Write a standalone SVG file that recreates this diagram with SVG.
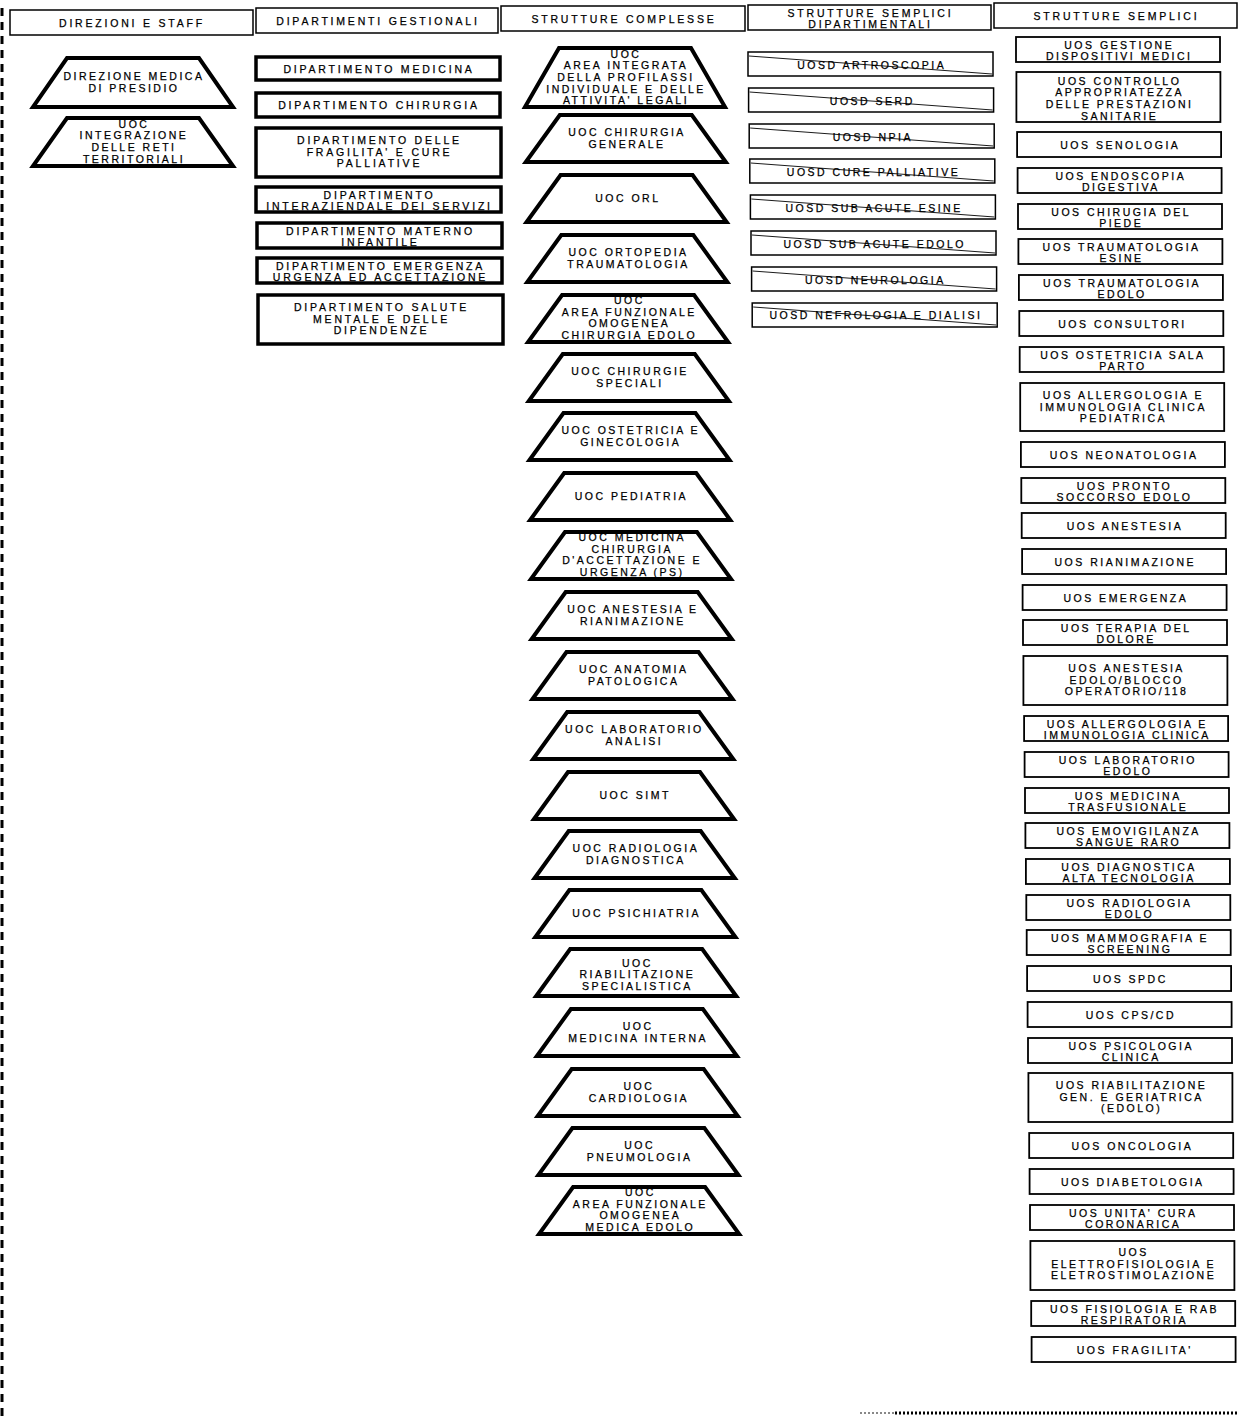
<svg xmlns="http://www.w3.org/2000/svg" width="1239" height="1416" viewBox="0 0 1239 1416">
<style>
.bg{fill:#fff}
.hd{fill:#fff;stroke:#000;stroke-width:1.5}
.tr{fill:#fff;stroke:#000;stroke-width:4;stroke-linejoin:miter}
.dp{fill:#fff;stroke:#000;stroke-width:3.5}
.sd{fill:#fff;stroke:#000;stroke-width:1.5}
.us{fill:#fff;stroke:#000;stroke-width:1.8}
.dg{stroke:#000;stroke-width:0.9;fill:none}
text{font-family:"Liberation Sans",Arial,sans-serif;font-size:10.5px;letter-spacing:2.5px;text-anchor:middle;fill:#000;stroke:#000;stroke-width:0.25}
.ht{letter-spacing:2.8px}
.dt{letter-spacing:2.8px}
</style>
<rect class="bg" x="0" y="0" width="1239" height="1416"/>
<g id="decor">
<line x1="2" y1="8" x2="2" y2="1416" stroke="#000" stroke-width="3" stroke-dasharray="8 6"/>
<line x1="860" y1="1413" x2="895" y2="1413" stroke="#888" stroke-width="2" stroke-dasharray="2 2"/>
<line x1="895" y1="1413" x2="1239" y2="1413" stroke="#000" stroke-width="3" stroke-dasharray="2 2"/>
</g>
<g id="headers">
<g id="h1"><rect class="hd" x="10" y="10" width="243" height="25"/><text class="ht" x="132" y="26.5">DIREZIONI E STAFF</text></g>
<g id="h2"><rect class="hd" x="256" y="8" width="242" height="25"/><text class="ht" x="378" y="24.5">DIPARTIMENTI GESTIONALI</text></g>
<g id="h3"><rect class="hd" x="501" y="6" width="244" height="25"/><text class="ht" x="624" y="22.5">STRUTTURE COMPLESSE</text></g>
<g id="h4"><rect class="hd" x="748" y="5" width="243" height="25"/><text class="ht" x="870.5" y="16.5">STRUTTURE SEMPLICI</text><text class="ht" x="870.5" y="28.2">DIPARTIMENTALI</text></g>
<g id="h5"><rect class="hd" x="994" y="3" width="243" height="25"/><text class="ht" x="1116.5" y="19.5">STRUTTURE SEMPLICI</text></g>
</g>
<g id="staff">
<g id="s1"><polygon class="tr" points="67,58 199,58 233,107 33,107"/><text x="134" y="80">DIREZIONE MEDICA</text><text x="134" y="91.7">DI PRESIDIO</text></g>
<g id="s2"><polygon class="tr" points="67,118 199,118 233,166 33,166"/><text x="134" y="127.5">UOC</text><text x="134" y="139.2">INTEGRAZIONE</text><text x="134" y="150.9">DELLE RETI</text><text x="134" y="162.6">TERRITORIALI</text></g>
</g>
<g id="dipartimenti">
<g id="d1"><rect class="dp" x="256" y="57" width="244" height="23"/><text class="dt" x="379" y="72.5">DIPARTIMENTO MEDICINA</text></g>
<g id="d2"><rect class="dp" x="256" y="93" width="244" height="24"/><text class="dt" x="379" y="108.5">DIPARTIMENTO CHIRURGIA</text></g>
<g id="d3"><rect class="dp" x="256" y="128" width="245" height="49"/><text class="dt" x="379.5" y="144">DIPARTIMENTO DELLE</text><text class="dt" x="379.5" y="155.7">FRAGILITA' E CURE</text><text class="dt" x="379.5" y="167.4">PALLIATIVE</text></g>
<g id="d4"><rect class="dp" x="256" y="187" width="245" height="25"/><text class="dt" x="379.5" y="198.5">DIPARTIMENTO</text><text class="dt" x="379.5" y="210.2">INTERAZIENDALE DEI SERVIZI</text></g>
<g id="d5"><rect class="dp" x="257" y="223" width="245" height="25"/><text class="dt" x="380.5" y="234.5">DIPARTIMENTO MATERNO</text><text class="dt" x="380.5" y="246.2">INFANTILE</text></g>
<g id="d6"><rect class="dp" x="257" y="258" width="245" height="25"/><text class="dt" x="380.5" y="269.5">DIPARTIMENTO EMERGENZA</text><text class="dt" x="380.5" y="281.2">URGENZA ED ACCETTAZIONE</text></g>
<g id="d7"><rect class="dp" x="258" y="295" width="245" height="49"/><text class="dt" x="381.5" y="311">DIPARTIMENTO SALUTE</text><text class="dt" x="381.5" y="322.7">MENTALE E DELLE</text><text class="dt" x="381.5" y="334.4">DIPENDENZE</text></g>
</g>
<g id="complesse">
<g id="c1"><polygon class="tr" points="559,48 691,48 725,107 525,107"/><text x="626" y="57.5">UOC</text><text x="626" y="69.2">AREA INTEGRATA</text><text x="626" y="80.9">DELLA PROFILASSI</text><text x="626" y="92.6">INDIVIDUALE E DELLE</text><text x="626" y="104.3">ATTIVITA' LEGALI</text></g>
<g id="c2"><polygon class="tr" points="559.8,115 691.8,115 725.8,162 525.8,162"/><text x="627" y="136">UOC CHIRURGIA</text><text x="627" y="147.7">GENERALE</text></g>
<g id="c3"><polygon class="tr" points="560.6,175 692.6,175 726.6,222 526.6,222"/><text x="627.8" y="202">UOC ORL</text></g>
<g id="c4"><polygon class="tr" points="561.3,235 693.3,235 727.3,282 527.3,282"/><text x="628.5" y="256">UOC ORTOPEDIA</text><text x="628.5" y="267.7">TRAUMATOLOGIA</text></g>
<g id="c5"><polygon class="tr" points="562.1,295 694.1,295 728.1,342 528.1,342"/><text x="629.3" y="304">UOC</text><text x="629.3" y="315.7">AREA FUNZIONALE</text><text x="629.3" y="327.4">OMOGENEA</text><text x="629.3" y="339.1">CHIRURGIA EDOLO</text></g>
<g id="c6"><polygon class="tr" points="562.8,354 694.8,354 728.8,401 528.8,401"/><text x="630" y="375">UOC CHIRURGIE</text><text x="630" y="386.7">SPECIALI</text></g>
<g id="c7"><polygon class="tr" points="563.5,413 695.5,413 729.5,460 529.5,460"/><text x="630.7" y="434">UOC OSTETRICIA E</text><text x="630.7" y="445.7">GINECOLOGIA</text></g>
<g id="c8"><polygon class="tr" points="564.2,473 696.2,473 730.2,520 530.2,520"/><text x="631.4" y="500">UOC PEDIATRIA</text></g>
<g id="c9"><polygon class="tr" points="565,532 697,532 731,579 531,579"/><text x="632.2" y="541">UOC MEDICINA</text><text x="632.2" y="552.7">CHIRURGIA</text><text x="632.2" y="564.4">D'ACCETTAZIONE E</text><text x="632.2" y="576.1">URGENZA (PS)</text></g>
<g id="c10"><polygon class="tr" points="565.7,592 697.7,592 731.7,639 531.7,639"/><text x="632.9" y="613">UOC ANESTESIA E</text><text x="632.9" y="624.7">RIANIMAZIONE</text></g>
<g id="c11"><polygon class="tr" points="566.5,652 698.5,652 732.5,699 532.5,699"/><text x="633.7" y="673">UOC ANATOMIA</text><text x="633.7" y="684.7">PATOLOGICA</text></g>
<g id="c12"><polygon class="tr" points="567.2,712 699.2,712 733.2,759 533.2,759"/><text x="634.4" y="733">UOC LABORATORIO</text><text x="634.4" y="744.7">ANALISI</text></g>
<g id="c13"><polygon class="tr" points="568,772 700,772 734,819 534,819"/><text x="635.2" y="799">UOC SIMT</text></g>
<g id="c14"><polygon class="tr" points="568.7,831 700.7,831 734.7,878 534.7,878"/><text x="635.9" y="852">UOC RADIOLOGIA</text><text x="635.9" y="863.7">DIAGNOSTICA</text></g>
<g id="c15"><polygon class="tr" points="569.4,890 701.4,890 735.4,937 535.4,937"/><text x="636.6" y="917">UOC PSICHIATRIA</text></g>
<g id="c16"><polygon class="tr" points="570.2,949 702.2,949 736.2,996 536.2,996"/><text x="637.4" y="966.5">UOC</text><text x="637.4" y="978.2">RIABILITAZIONE</text><text x="637.4" y="989.9">SPECIALISTICA</text></g>
<g id="c17"><polygon class="tr" points="570.9,1009 702.9,1009 736.9,1056 536.9,1056"/><text x="638.1" y="1030">UOC</text><text x="638.1" y="1041.7">MEDICINA INTERNA</text></g>
<g id="c18"><polygon class="tr" points="571.7,1069 703.7,1069 737.7,1116 537.7,1116"/><text x="638.9" y="1090">UOC</text><text x="638.9" y="1101.7">CARDIOLOGIA</text></g>
<g id="c19"><polygon class="tr" points="572.4,1128 704.4,1128 738.4,1175 538.4,1175"/><text x="639.6" y="1149">UOC</text><text x="639.6" y="1160.7">PNEUMOLOGIA</text></g>
<g id="c20"><polygon class="tr" points="573.1,1187 705.1,1187 739.1,1234 539.1,1234"/><text x="640.3" y="1196">UOC</text><text x="640.3" y="1207.7">AREA FUNZIONALE</text><text x="640.3" y="1219.4">OMOGENEA</text><text x="640.3" y="1231.1">MEDICA EDOLO</text></g>
</g>
<g id="dipartimentali">
<g id="sd1"><rect class="sd" x="748" y="52" width="245" height="24"/><line class="dg" x1="749" y1="56" x2="992" y2="74"/><text x="871.7" y="68.5">UOSD ARTROSCOPIA</text></g>
<g id="sd2"><rect class="sd" x="748.6" y="88" width="245" height="24"/><line class="dg" x1="749.6" y1="92" x2="992.6" y2="110"/><text x="872.3" y="104.5">UOSD SERD</text></g>
<g id="sd3"><rect class="sd" x="749.2" y="124" width="245" height="24"/><line class="dg" x1="750.2" y1="128" x2="993.2" y2="146"/><text x="872.9" y="140.5">UOSD NPIA</text></g>
<g id="sd4"><rect class="sd" x="749.8" y="159" width="245" height="24"/><line class="dg" x1="750.8" y1="163" x2="993.8" y2="181"/><text x="873.5" y="175.5">UOSD CURE PALLIATIVE</text></g>
<g id="sd5"><rect class="sd" x="750.4" y="195" width="245" height="24"/><line class="dg" x1="751.4" y1="199" x2="994.4" y2="217"/><text x="874.1" y="211.5">UOSD SUB ACUTE ESINE</text></g>
<g id="sd6"><rect class="sd" x="751" y="231" width="245" height="24"/><line class="dg" x1="752" y1="235" x2="995" y2="253"/><text x="874.7" y="247.5">UOSD SUB ACUTE EDOLO</text></g>
<g id="sd7"><rect class="sd" x="751.6" y="267" width="245" height="24"/><line class="dg" x1="752.6" y1="271" x2="995.6" y2="289"/><text x="875.3" y="283.5">UOSD NEUROLOGIA</text></g>
<g id="sd8"><rect class="sd" x="752.2" y="303" width="245" height="24"/><line class="dg" x1="753.2" y1="307" x2="996.2" y2="325"/><text x="875.9" y="319">UOSD NEFROLOGIA E DIALISI</text></g>
</g>
<g id="semplici">
<g id="u1"><rect class="us" x="1016" y="37" width="204" height="25"/><text x="1119.2" y="48.5">UOS GESTIONE</text><text x="1119.2" y="60.2">DISPOSITIVI MEDICI</text></g>
<g id="u2"><rect class="us" x="1016.4" y="72" width="204" height="50"/><text x="1119.6" y="84.5">UOS CONTROLLO</text><text x="1119.6" y="96.2">APPROPRIATEZZA</text><text x="1119.6" y="107.9">DELLE PRESTAZIONI</text><text x="1119.6" y="119.6">SANITARIE</text></g>
<g id="u3"><rect class="us" x="1017.1" y="132" width="204" height="25"/><text x="1120.3" y="148.5">UOS SENOLOGIA</text></g>
<g id="u4"><rect class="us" x="1017.6" y="168" width="204" height="25"/><text x="1120.8" y="179.5">UOS ENDOSCOPIA</text><text x="1120.8" y="191.2">DIGESTIVA</text></g>
<g id="u5"><rect class="us" x="1018" y="204" width="204" height="25"/><text x="1121.2" y="215.5">UOS CHIRUGIA DEL</text><text x="1121.2" y="227.2">PIEDE</text></g>
<g id="u6"><rect class="us" x="1018.4" y="239" width="204" height="25"/><text x="1121.6" y="250.5">UOS TRAUMATOLOGIA</text><text x="1121.6" y="262.2">ESINE</text></g>
<g id="u7"><rect class="us" x="1018.9" y="275" width="204" height="25"/><text x="1122.1" y="286.5">UOS TRAUMATOLOGIA</text><text x="1122.1" y="298.2">EDOLO</text></g>
<g id="u8"><rect class="us" x="1019.3" y="311" width="204" height="25"/><text x="1122.5" y="327.5">UOS CONSULTORI</text></g>
<g id="u9"><rect class="us" x="1019.7" y="347" width="204" height="25"/><text x="1122.9" y="358.5">UOS OSTETRICIA SALA</text><text x="1122.9" y="370.2">PARTO</text></g>
<g id="u10"><rect class="us" x="1020.2" y="383" width="204" height="48"/><text x="1123.4" y="399">UOS ALLERGOLOGIA E</text><text x="1123.4" y="410.7">IMMUNOLOGIA CLINICA</text><text x="1123.4" y="422.4">PEDIATRICA</text></g>
<g id="u11"><rect class="us" x="1020.9" y="442" width="204" height="25"/><text x="1124.1" y="458.5">UOS NEONATOLOGIA</text></g>
<g id="u12"><rect class="us" x="1021.3" y="478" width="204" height="25"/><text x="1124.5" y="489.5">UOS PRONTO</text><text x="1124.5" y="501.2">SOCCORSO EDOLO</text></g>
<g id="u13"><rect class="us" x="1021.7" y="513" width="204" height="25"/><text x="1124.9" y="529.5">UOS ANESTESIA</text></g>
<g id="u14"><rect class="us" x="1022.1" y="549" width="204" height="25"/><text x="1125.3" y="565.5">UOS RIANIMAZIONE</text></g>
<g id="u15"><rect class="us" x="1022.6" y="585" width="204" height="25"/><text x="1125.8" y="601.5">UOS EMERGENZA</text></g>
<g id="u16"><rect class="us" x="1023" y="620" width="204" height="25"/><text x="1126.2" y="631.5">UOS TERAPIA DEL</text><text x="1126.2" y="643.2">DOLORE</text></g>
<g id="u17"><rect class="us" x="1023.4" y="656" width="204" height="49"/><text x="1126.6" y="672">UOS ANESTESIA</text><text x="1126.6" y="683.7">EDOLO/BLOCCO</text><text x="1126.6" y="695.4">OPERATORIO/118</text></g>
<g id="u18"><rect class="us" x="1024.1" y="716" width="204" height="25"/><text x="1127.3" y="727.5">UOS ALLERGOLOGIA E</text><text x="1127.3" y="739.2">IMMUNOLOGIA CLINICA</text></g>
<g id="u19"><rect class="us" x="1024.6" y="752" width="204" height="25"/><text x="1127.8" y="763.5">UOS LABORATORIO</text><text x="1127.8" y="775.2">EDOLO</text></g>
<g id="u20"><rect class="us" x="1025" y="788" width="204" height="25"/><text x="1128.2" y="799.5">UOS MEDICINA</text><text x="1128.2" y="811.2">TRASFUSIONALE</text></g>
<g id="u21"><rect class="us" x="1025.4" y="823" width="204" height="25"/><text x="1128.6" y="834.5">UOS EMOVIGILANZA</text><text x="1128.6" y="846.2">SANGUE RARO</text></g>
<g id="u22"><rect class="us" x="1025.9" y="859" width="204" height="25"/><text x="1129.1" y="870.5">UOS DIAGNOSTICA</text><text x="1129.1" y="882.2">ALTA TECNOLOGIA</text></g>
<g id="u23"><rect class="us" x="1026.3" y="895" width="204" height="25"/><text x="1129.5" y="906.5">UOS RADIOLOGIA</text><text x="1129.5" y="918.2">EDOLO</text></g>
<g id="u24"><rect class="us" x="1026.7" y="930" width="204" height="25"/><text x="1129.9" y="941.5">UOS MAMMOGRAFIA E</text><text x="1129.9" y="953.2">SCREENING</text></g>
<g id="u25"><rect class="us" x="1027.1" y="966" width="204" height="25"/><text x="1130.3" y="982.5">UOS SPDC</text></g>
<g id="u26"><rect class="us" x="1027.6" y="1002" width="204" height="25"/><text x="1130.8" y="1018.5">UOS CPS/CD</text></g>
<g id="u27"><rect class="us" x="1028" y="1038" width="204" height="25"/><text x="1131.2" y="1049.5">UOS PSICOLOGIA</text><text x="1131.2" y="1061.2">CLINICA</text></g>
<g id="u28"><rect class="us" x="1028.4" y="1073" width="204" height="49"/><text x="1131.6" y="1089">UOS RIABILITAZIONE</text><text x="1131.6" y="1100.7">GEN. E GERIATRICA</text><text x="1131.6" y="1112.4">(EDOLO)</text></g>
<g id="u29"><rect class="us" x="1029.2" y="1133" width="204" height="25"/><text x="1132.4" y="1149.5">UOS ONCOLOGIA</text></g>
<g id="u30"><rect class="us" x="1029.6" y="1169" width="204" height="25"/><text x="1132.8" y="1185.5">UOS DIABETOLOGIA</text></g>
<g id="u31"><rect class="us" x="1030" y="1205" width="204" height="25"/><text x="1133.2" y="1216.5">UOS UNITA' CURA</text><text x="1133.2" y="1228.2">CORONARICA</text></g>
<g id="u32"><rect class="us" x="1030.4" y="1241" width="204" height="49"/><text x="1133.6" y="1256">UOS</text><text x="1133.6" y="1267.7">ELETTROFISIOLOGIA E</text><text x="1133.6" y="1279.4">ELETROSTIMOLAZIONE</text></g>
<g id="u33"><rect class="us" x="1031.2" y="1301" width="204" height="25"/><text x="1134.4" y="1312.5">UOS FISIOLOGIA E RAB</text><text x="1134.4" y="1324.2">RESPIRATORIA</text></g>
<g id="u34"><rect class="us" x="1031.6" y="1337" width="204" height="25"/><text x="1134.8" y="1353.5">UOS FRAGILITA'</text></g>
</g>
<g id="connectors"/>
</svg>
